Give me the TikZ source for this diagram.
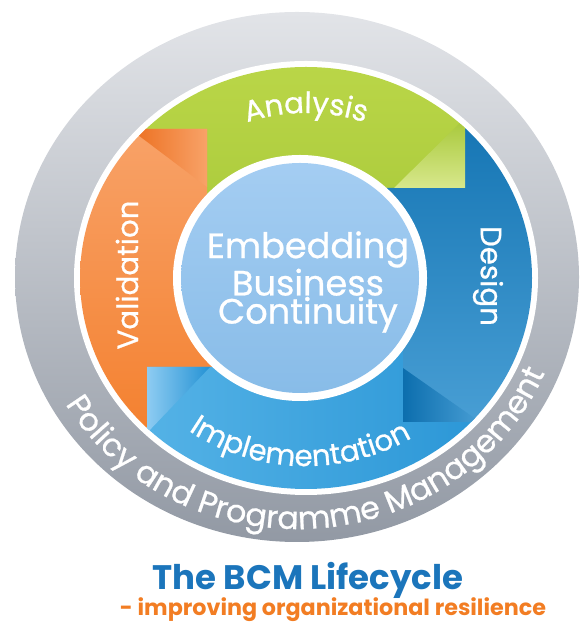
\documentclass[tikz,border=0pt]{standalone}
\usepackage{fontspec}
\setmainfont{Poppins}
\newfontfamily\bcmmed{Poppins}[FakeBold=0.7]
\definecolor{bcmgreytop}{RGB}{226,228,232}
\definecolor{bcmgreybot}{RGB}{146,153,164}
\definecolor{bcmgreen}{RGB}{166,199,56}
\definecolor{bcmgreenlt}{RGB}{186,214,72}
\definecolor{bcmgreenfold}{RGB}{216,232,140}
\definecolor{bcmorange}{RGB}{243,122,36}
\definecolor{bcmorangelt}{RGB}{248,162,104}
\definecolor{bcmorangedk}{RGB}{236,110,30}
\definecolor{bcmdesign}{RGB}{12,110,174}
\definecolor{bcmdesignlt}{RGB}{72,158,212}
\definecolor{bcmimpl}{RGB}{36,146,212}
\definecolor{bcmimpllt}{RGB}{84,178,230}
\definecolor{bcmimplfold}{RGB}{142,204,242}
\definecolor{bcmcore}{RGB}{136,188,232}
\definecolor{bcmcorelt}{RGB}{164,205,242}
\definecolor{bcmtitle}{RGB}{27,117,187}
\definecolor{bcmsub}{RGB}{242,125,35}
\usetikzlibrary{decorations.text,calc}
\newcommand\bcmlblfont{\bcmmed\fontsize{25}{25}\selectfont}
\newcommand\bcmringfont{\bcmmed\fontsize{27}{27}\selectfont}

\begin{document}
\begin{tikzpicture}[x=0.03cm, y=0.03cm,
    seglbl/.style={text=white, font=\bcmlblfont, inner sep=0pt},
    foldtri/.style={draw=none},
    arclbl/.style={decorate, decoration={text along path, text align=center,
                   text color=white}}
  ]
    \useasboundingbox (0,0) rectangle (587,623);
    \coordinate (greyc) at (297,346);
    \coordinate (ringc) at (306,345);
    \coordinate (corec) at (300,345);

    % Outer grey ring
    \shade[top color=bcmgreytop, bottom color=bcmgreybot]
        (greyc) ellipse [x radius=282, y radius=265];
    \fill[white] (ringc) ellipse [x radius=232, y radius=217];

    % Lifecycle segments
    \begin{scope}
      \clip (ringc) ellipse [x radius=226, y radius=211];
      % Analysis
      \shade[top color=bcmgreenlt, bottom color=bcmgreen]
          (70,494) -- (207,494) -- (207,380) -- (ringc) -- (380,435)
          -- (465,435) -- (465,560) -- (70,560) -- cycle;
      % Validation
      \shade[top color=bcmorangelt, bottom color=bcmorange]
          (70,494) -- (207,494) -- (207,380) -- (ringc) -- (225,256)
          -- (147,256) -- (147,130) -- (70,130) -- cycle;
      % Implementation
      \shade[left color=bcmimpllt, right color=bcmimpl]
          (147,130) -- (147,256) -- (225,256) -- (ringc) -- (403,280)
          -- (403,201) -- (540,201) -- (540,130) -- cycle;
      % Design
      \shade[top color=bcmdesign, bottom color=bcmdesignlt]
          (465,560) -- (465,435) -- (380,435) -- (ringc) -- (403,280)
          -- (403,201) -- (540,201) -- (540,560) -- cycle;

      % Folded arrow heads
      \shade[foldtri, left color=bcmorangedk, right color=bcmorangelt]
          (130,494) -- (207,494) -- (207,436) -- cycle;
      \shade[foldtri, top color=bcmgreen, bottom color=bcmgreenfold]
          (465,505) -- (465,435) -- (394,435) -- cycle;
      \shade[foldtri, left color=bcmdesign, right color=bcmdesignlt]
          (403,255) -- (403,201) -- (480,201) -- cycle;
      \shade[foldtri, left color=bcmimplfold, right color=bcmimpl]
          (147,256) -- (210,256) -- (147,190) -- cycle;
    \end{scope}

    % Centre disc
    \fill[white] (corec) ellipse [x radius=127, y radius=123];
    \shade[top color=bcmcorelt, bottom color=bcmcore]
        (corec) ellipse [x radius=119, y radius=115];
    \node[text=white, align=center, font=\bcmmed\fontsize{30}{24}\selectfont]
        (core) at (308,341) {Embedding\\Business\\Continuity};

    % Segment labels
    \path[arclbl, decoration={text={|\bcmlblfont|Analysis}}]
        (ringc) ++(125:176 and 165) arc[start angle=125, end angle=55,
        x radius=176, y radius=165];
    \path[arclbl, decoration={text={|\bcmlblfont|Implementation}}]
        (ringc) ++(203:201 and 188) arc[start angle=203, end angle=333,
        x radius=201, y radius=188];
    \node[seglbl, rotate=90]  (validation) at (127,348) {Validation};
    \node[seglbl, rotate=-90] (design)     at (488,347) {Design};

    % Ring label
    \path[arclbl, decoration={text={|\bcmringfont|Policy and Programme Management}}]
        (greyc) ++(192:268 and 252) arc[start angle=192, end angle=356,
        x radius=268, y radius=252];

    % Caption
    \node[text=bcmtitle, font=\fontsize{29}{29}\selectfont\bfseries]
        (title) at (308,43) {The BCM Lifecycle};
    \node[text=bcmsub, font=\fontsize{19}{19}\selectfont\bfseries]
        (subtitle) at (333,13) {- improving organizational resilience};
  \end{tikzpicture}
\end{document}
